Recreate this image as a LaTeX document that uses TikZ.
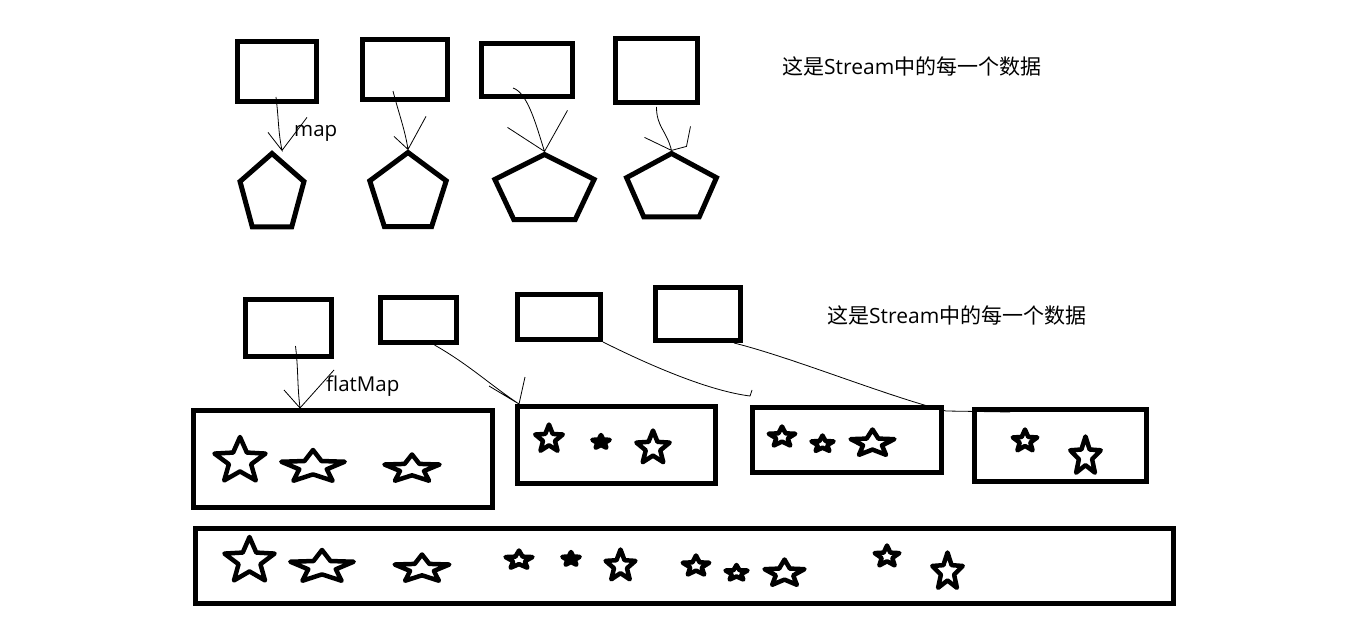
\documentclass[tikz,border=0pt]{standalone}
\usepackage{fontspec}
\setmainfont{Open Sans}
\newfontfamily\cjk{Noto Sans CJK SC}
\usetikzlibrary{shapes.geometric}

\begin{document}
\begin{tikzpicture}[x=1pt, y=-1pt, box node/.style={draw, line width=5pt, inner sep=0}, poly node/.style={draw, line width=5pt, regular polygon, regular polygon sides=5, inner sep=0}, star node/.style={draw, line width=4.5pt, line join=round, star, star points=5, star point ratio=2.3, inner sep=0}, pen/.style={line width=0.8pt}, label node/.style={inner sep=0, anchor=base west, font=\fontsize{20.5}{24}\selectfont}]
\path[use as bounding box, fill=white] (0,0) rectangle (1360,623);
\node[box node, minimum width=79, minimum height=60] (t1) at (277,71.5) {};
\node[box node, minimum width=85, minimum height=60] (t2) at (405,69.5) {};
\node[box node, minimum width=91, minimum height=53] (t3) at (527,70) {};
\node[box node, minimum width=82, minimum height=64] (t4) at (656.5,70.5) {};
\node[poly node, minimum size=81, xscale=0.83] (p1) at (272,194) {};
\node[poly node, minimum size=82, xscale=0.98] (p2) at (408,193.5) {};
\node[poly node, minimum size=72, xscale=1.45] (p3) at (544.5,190.5) {};
\node[poly node, minimum size=70, xscale=1.35] (p4) at (671.5,188.5) {};
\node[label node] (map) at (294,137) {map};
\node[label node, font=\fontsize{21}{25}\selectfont] (note1) at (782,75) {{\cjk 这是}Stream{\cjk 中的每一个数据}};
\draw[pen] ([xshift=-1pt,yshift=7pt]t1.south) .. controls +(3,25) and +(-4,-20) .. ([xshift=10pt]p1.north) -- ++(-14,-18) ([xshift=10pt]p1.north) -- ++(25,-33);
\draw[pen] ([xshift=-12pt,yshift=11pt]t2.south) .. controls +(5,20) and +(-3,-20) .. (p2.north) -- ++(-14,-13) (p2.north) -- ++(18,-33);
\draw[pen] ([xshift=-14pt,yshift=11pt]t3.south) .. controls +(15,5) and +(-8,-25) .. (p3.north) -- ++(-37,-24) (p3.north) -- ++(23,-41);
\draw[pen] ([yshift=-2pt]t4.south) .. controls +(0,20) and +(-5,-20) .. (p4.north) -- ++(-27,-13) (p4.north) -- ++(15,-4) -- ++(4,-20);
\node[box node, minimum width=86, minimum height=57] (b1) at (288.5,328) {};
\node[box node, minimum width=76, minimum height=45] (b2) at (418.5,320) {};
\node[box node, minimum width=83, minimum height=45] (b3) at (559,317) {};
\node[box node, minimum width=85, minimum height=53] (b4) at (698,314) {};
\node[label node] (flat) at (326,391) {flatMap};
\node[label node, font=\fontsize{21}{25}\selectfont] (note2) at (827,323) {{\cjk 这是}Stream{\cjk 中的每一个数据}};
\node[box node, minimum width=299, minimum height=97] (c1) at (343,459) {};
\node[box node, minimum width=198, minimum height=77] (c2) at (616.5,445) {};
\node[box node, minimum width=189, minimum height=65] (c3) at (847,440) {};
\node[box node, minimum width=172, minimum height=72] (c4) at (1060.5,445.5) {};
\node[box node, minimum width=978, minimum height=75] (all) at (684.5,566) {};
\draw[pen] ([xshift=7pt,yshift=13pt]b1.south) .. controls +(3,25) and +(-3,-25) .. ([xshift=-43pt]c1.north) -- ++(-16,-18) ([xshift=-43pt]c1.north) -- ++(34,-38);
\draw[pen] ([xshift=16pt]b2.south) .. controls +(35,20) and +(-30,-20) .. ([xshift=4pt]c2.north west) -- ++(6,-27) ([xshift=4pt]c2.north west) -- ++(-30,-18);
\draw[pen] (b3.south east) .. controls +(50,25) and +(-40,-5) .. ([yshift=9pt]c3.north west) -- ++(2,-6);
\draw[pen] ([xshift=-9pt]b4.south east) .. controls +(60,15) and +(-60,-15) .. ([xshift=-26pt,yshift=-4pt]c4.north west) -- ([xshift=38pt,yshift=-5pt]c4.north west);
\node[star node, minimum size=48, xscale=1.12] (c1s1) at (240,461) {};
\node[star node, minimum size=34, xscale=1.96] (c1s2) at (313,467) {};
\node[star node, minimum size=29, xscale=2.0] (c1s3) at (412,469) {};
\node[star node, minimum size=29] (c2s1) at (549,439) {};
\node[star node, fill, minimum size=14, xscale=1.3] (c2s2) at (601,442) {};
\node[star node, minimum size=35] (c2s3) at (653,448) {};
\node[star node, minimum size=21, xscale=1.33] (c3s1) at (782,437) {};
\node[star node, minimum size=17, xscale=1.37] (c3s2) at (822.5,444) {};
\node[star node, minimum size=28, xscale=1.64] (c3s3) at (872.5,443.5) {};
\node[star node, minimum size=23, xscale=1.12] (c4s1) at (1025,441) {};
\node[star node, minimum size=40, xscale=0.8] (c4s2) at (1085.5,456.5) {};
\node[star node, minimum size=48, xscale=1.1] (a1) at (249.5,561) {};
\node[star node, minimum size=34, xscale=1.96] (a2) at (322,567) {};
\node[star node, minimum size=29, xscale=1.98] (a3) at (422,569) {};
\node[star node, minimum size=19, xscale=1.49] (a4) at (519,560) {};
\node[star node, fill, minimum size=14, xscale=1.3] (a5) at (571,559) {};
\node[star node, minimum size=33, xscale=0.95] (a6) at (620.5,566) {};
\node[star node, minimum size=21, xscale=1.33] (a7) at (696,566) {};
\node[star node, minimum size=16, xscale=1.45] (a8) at (736.5,573) {};
\node[star node, minimum size=28, xscale=1.5] (a9) at (784.5,573.5) {};
\node[star node, minimum size=22, xscale=1.18] (a10) at (887,556.5) {};
\node[star node, minimum size=39, xscale=0.82] (a11) at (947.5,572) {};
\end{tikzpicture}
\end{document}
